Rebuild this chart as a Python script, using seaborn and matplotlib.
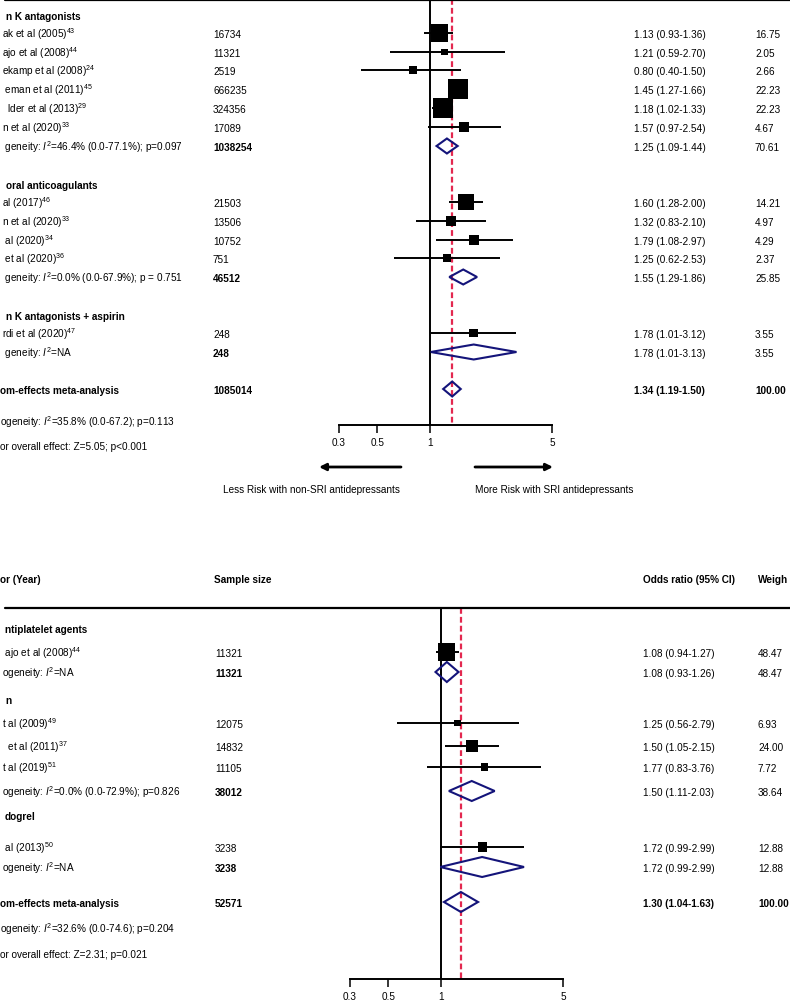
import numpy as np
import pandas as pd
import matplotlib
matplotlib.use("Agg")
import matplotlib.pyplot as plt
import matplotlib.transforms as mtransforms
from matplotlib.ticker import NullLocator, FixedLocator, FixedFormatter
import seaborn as sns

# ---------------- data: top panel ----------------
top_groups = ["n K antagonists", "oral anticoagulants", "n K antagonists + aspirin"]
top_studies = ["ak et al (2005)$^{43}$", "ajo et al (2008)$^{44}$", "ekamp et al (2008)$^{24}$",
               " eman et al (2011)$^{45}$", "  lder et al (2013)$^{29}$", "n et al (2020)$^{33}$",
               "al (2017)$^{46}$", "n et al (2020)$^{33}$", " al (2020)$^{34}$", " et al (2020)$^{36}$",
               "rdi et al (2020)$^{47}$"]
top_n = [16734, 11321, 2519, 666235, 324356, 17089, 21503, 13506, 10752, 751, 248]
top_or = [1.13, 1.21, 0.80, 1.45, 1.18, 1.57, 1.60, 1.32, 1.79, 1.25, 1.78]
top_lo = [0.93, 0.59, 0.40, 1.27, 1.02, 0.97, 1.28, 0.83, 1.08, 0.62, 1.01]
top_hi = [1.36, 2.70, 1.50, 1.66, 1.33, 2.54, 2.00, 2.10, 2.97, 2.53, 3.12]
top_w = [16.75, 2.05, 2.66, 22.23, 22.23, 4.67, 14.21, 4.97, 4.29, 2.37, 3.55]
top_sub_label = [" geneity: $I^2$=46.4% (0.0-77.1%); p=0.097",
                 " geneity: $I^2$=0.0% (0.0-67.9%); p = 0.751",
                 " geneity: $I^2$=NA"]
top_sub_n = [1038254, 46512, 248]
top_sub_or = [1.25, 1.55, 1.78]
top_sub_lo = [1.09, 1.29, 1.01]
top_sub_hi = [1.44, 1.86, 3.13]
top_sub_w = [70.61, 25.85, 3.55]
top_overall = dict(label="om-effects meta-analysis", n=1085014, est=1.34, lo=1.19, hi=1.50, w=100.00,
                   het="ogeneity: $I^2$=35.8% (0.0-67.2); p=0.113",
                   eff="or overall effect: Z=5.05; p<0.001")
top_ticks = [0.3, 0.5, 1, 5]
top_tick_labels = ["0.3", "0.5", "1", "5"]
arrow_left_text = "Less Risk with non-SRI antidepressants"
arrow_right_text = "More Risk with SRI antidepressants"

# ---------------- data: bottom panel ----------------
bot_header = ["or (Year)", "Sample size", "Odds ratio (95% CI)", "Weigh"]
bot_groups = ["ntiplatelet agents", "n", "dogrel"]
bot_studies = [" ajo et al (2008)$^{44}$", "t al (2009)$^{49}$", "  et al (2011)$^{37}$",
               "t al (2019)$^{51}$", " al (2013)$^{50}$"]
bot_n = [11321, 12075, 14832, 11105, 3238]
bot_or = [1.08, 1.25, 1.50, 1.77, 1.72]
bot_lo = [0.94, 0.56, 1.05, 0.83, 0.99]
bot_hi = [1.27, 2.79, 2.15, 3.76, 2.99]
bot_w = [48.47, 6.93, 24.00, 7.72, 12.88]
bot_sub_label = ["ogeneity: $I^2$=NA", "ogeneity: $I^2$=0.0% (0.0-72.9%); p=0.826", "ogeneity: $I^2$=NA"]
bot_sub_n = [11321, 38012, 3238]
bot_sub_or = [1.08, 1.50, 1.72]
bot_sub_lo = [0.93, 1.11, 0.99]
bot_sub_hi = [1.26, 2.03, 2.99]
bot_sub_w = [48.47, 38.64, 12.88]
bot_overall = dict(label="om-effects meta-analysis", n=52571, est=1.30, lo=1.04, hi=1.63, w=100.00,
                   het="ogeneity: $I^2$=32.6% (0.0-74.6); p=0.204",
                   eff="or overall effect: Z=2.31; p=0.021")
bot_ticks = [0.3, 0.5, 1, 5]
bot_tick_labels = ["0.3", "0.5", "1", "5"]

# ---------------- layout (pixels from top of figure) ----------------
W, H = 790, 1004
PX_PER_LN = 75.8
FS = 7.2
RED = "#e3284f"
NAVY = "#14147a"

sns.set_theme(style="white")
plt.rcParams["font.family"] = ["Liberation Sans", "DejaVu Sans"]
plt.rcParams["mathtext.fontset"] = "custom"
plt.rcParams["mathtext.rm"] = "Liberation Sans"
plt.rcParams["mathtext.it"] = "Liberation Sans:italic"
plt.rcParams["mathtext.bf"] = "Liberation Sans:bold"

fig = plt.figure(figsize=(W / 100, H / 100), dpi=100)
fig.patch.set_facecolor("white")


def make_axes(y0, y1, x1px):
    ax = fig.add_axes([0, 1 - y1 / H, 1, (y1 - y0) / H])
    ax.set_facecolor("none")
    ax.set_xscale("log")
    return ax


def finish_axes(ax, y0, y1, x1px, axis_y, ticks, labels):
    ax.set_xlim(np.exp(-x1px / PX_PER_LN), np.exp((W - x1px) / PX_PER_LN))
    ax.set_ylim(y1, y0)
    for s in ["top", "left", "right"]:
        ax.spines[s].set_visible(False)
    sp = ax.spines["bottom"]
    sp.set_visible(True)
    sp.set_color("black")
    sp.set_linewidth(1.4)
    sp.set_position(("data", axis_y))
    sp.set_bounds(min(ticks), max(ticks))
    ax.xaxis.set_major_locator(FixedLocator(ticks))
    ax.xaxis.set_major_formatter(FixedFormatter(labels))
    ax.xaxis.set_minor_locator(NullLocator())
    ax.tick_params(axis="x", which="major", direction="out", length=5.5, width=1.1,
                   color="black", labelsize=FS, pad=3, bottom=True, labelcolor="black")
    ax.set_yticks([])
    ax.set_xlabel("")
    ax.set_ylabel("")
    ax.grid(False)


def txt(ax, xpx, y, s, bold=False, ha="left"):
    tr = mtransforms.blended_transform_factory(ax.transAxes, ax.transData)
    ax.text(xpx / W, y + 3.6, s, transform=tr, fontsize=FS, ha=ha, va="baseline",
            fontweight="bold" if bold else "normal", color="black", clip_on=False)


def diamond(ax, y, est, lo, hi, half_h):
    ax.fill([lo, est, hi, est, lo], [y, y - half_h, y, y + half_h, y],
            facecolor="none", edgecolor=NAVY, linewidth=1.5, zorder=4)


def panel(ax, cols, group_y, groups, study_y, studies, n, est, lo, hi, w, size_rng,
          sub_y, sub_label, sub_n, sub_or, sub_lo, sub_hi, sub_w, overall, over_y,
          het_y, eff_y, dh, group_x=6):
    name_x, n_x, or_x, w_x = cols
    for gy, g in zip(group_y, groups):
        txt(ax, group_x, gy, g, bold=True)
    df = pd.DataFrame({"est": est, "y": study_y, "w": w})
    ax.hlines(study_y, lo, hi, color="black", linewidth=1.4, zorder=3)
    wmax = max(w)
    sns.scatterplot(data=df, x="est", y="y", size="w", sizes=size_rng,
                    size_norm=(0, wmax), marker="s", color="black", linewidth=0,
                    legend=False, ax=ax, zorder=5)
    for yy, s, nn, e, l, h, ww in zip(study_y, studies, n, est, lo, hi, w):
        txt(ax, name_x, yy, s)
        txt(ax, n_x, yy, f"{nn}")
        txt(ax, or_x, yy, f"{e:.2f} ({l:.2f}-{h:.2f})")
        txt(ax, w_x, yy, f"{ww:.2f}")
    for yy, s, nn, e, l, h, ww in zip(sub_y, sub_label, sub_n, sub_or, sub_lo, sub_hi, sub_w):
        diamond(ax, yy, e, l, h, dh)
        txt(ax, name_x, yy, s)
        txt(ax, n_x, yy, f"{nn}", bold=True)
        txt(ax, or_x, yy, f"{e:.2f} ({l:.2f}-{h:.2f})")
        txt(ax, w_x, yy, f"{ww:.2f}")
    diamond(ax, over_y, overall["est"], overall["lo"], overall["hi"], dh)
    txt(ax, 0, over_y, overall["label"], bold=True)
    txt(ax, n_x, over_y, f"{overall['n']}", bold=True)
    txt(ax, or_x, over_y, f"{overall['est']:.2f} ({overall['lo']:.2f}-{overall['hi']:.2f})", bold=True)
    txt(ax, w_x, over_y, f"{overall['w']:.2f}", bold=True)
    txt(ax, 0, het_y, overall["het"])
    txt(ax, 0, eff_y, overall["eff"])


# ---------------- top panel ----------------
T0, T1, TX1 = 0, 505, 430
axT = make_axes(T0, T1, TX1)
axT.axhline(1, xmin=5 / W, xmax=1, color="black", linewidth=1.6, zorder=6)
axT.vlines(1, 0, 426, color="black", linewidth=1.4, zorder=2)
axT.vlines(top_overall["est"], 0, 426, color=RED, linewidth=1.6,
           linestyles=(0, (2.6, 1.4)), zorder=1)
panel(axT, (2, 213, 634, 755),
      [16, 185, 316], top_groups,
      [34, 53, 71, 90, 109, 128, 203, 222, 241, 259, 334], top_studies,
      top_n, top_or, top_lo, top_hi, top_w, (6.5, 207),
      [147, 278, 353], top_sub_label, top_sub_n, top_sub_or, top_sub_lo, top_sub_hi, top_sub_w,
      top_overall, 390, 422, 446, 7.5)
finish_axes(axT, T0, T1, TX1, 426, top_ticks, top_tick_labels)


def px2x(px, x1px):
    return float(np.exp((px - x1px) / PX_PER_LN))


arrow_kw = dict(arrowstyle="-|>", color="black", lw=2.0, mutation_scale=10, shrinkA=0, shrinkB=0)
axT.annotate("", xy=(px2x(319, TX1), 468), xytext=(px2x(401, TX1), 468), arrowprops=arrow_kw)
axT.annotate("", xy=(px2x(553, TX1), 468), xytext=(px2x(475, TX1), 468), arrowprops=arrow_kw)
txt(axT, 223, 489, arrow_left_text)
txt(axT, 475, 489, arrow_right_text)

# ---------------- bottom panel ----------------
B0, B1, BX1 = 560, 1004, 441
axB = make_axes(B0, B1, BX1)
for xpx, s in zip([0, 214, 643, 758], bot_header):
    txt(axB, xpx, 579, s, bold=True)
axB.axhline(609, xmin=5 / W, xmax=1, color="black", linewidth=1.6, zorder=6)
axB.vlines(1, 609, 980, color="black", linewidth=1.4, zorder=2)
axB.vlines(bot_overall["est"], 609, 980, color=RED, linewidth=1.6,
           linestyles=(0, (2.6, 1.4)), zorder=1)
panel(axB, (2, 215, 643, 758),
      [629, 700, 816], bot_groups,
      [653, 724, 747, 768, 848], bot_studies,
      bot_n, bot_or, bot_lo, bot_hi, bot_w, (4.6, 150),
      [673, 792, 868], bot_sub_label, bot_sub_n, bot_sub_or, bot_sub_lo, bot_sub_hi, bot_sub_w,
      bot_overall, 903, 929, 954, 10.0, group_x=5)
finish_axes(axB, B0, B1, BX1, 980, bot_ticks, bot_tick_labels)

fig.savefig("out.png", dpi=100, facecolor="white")
